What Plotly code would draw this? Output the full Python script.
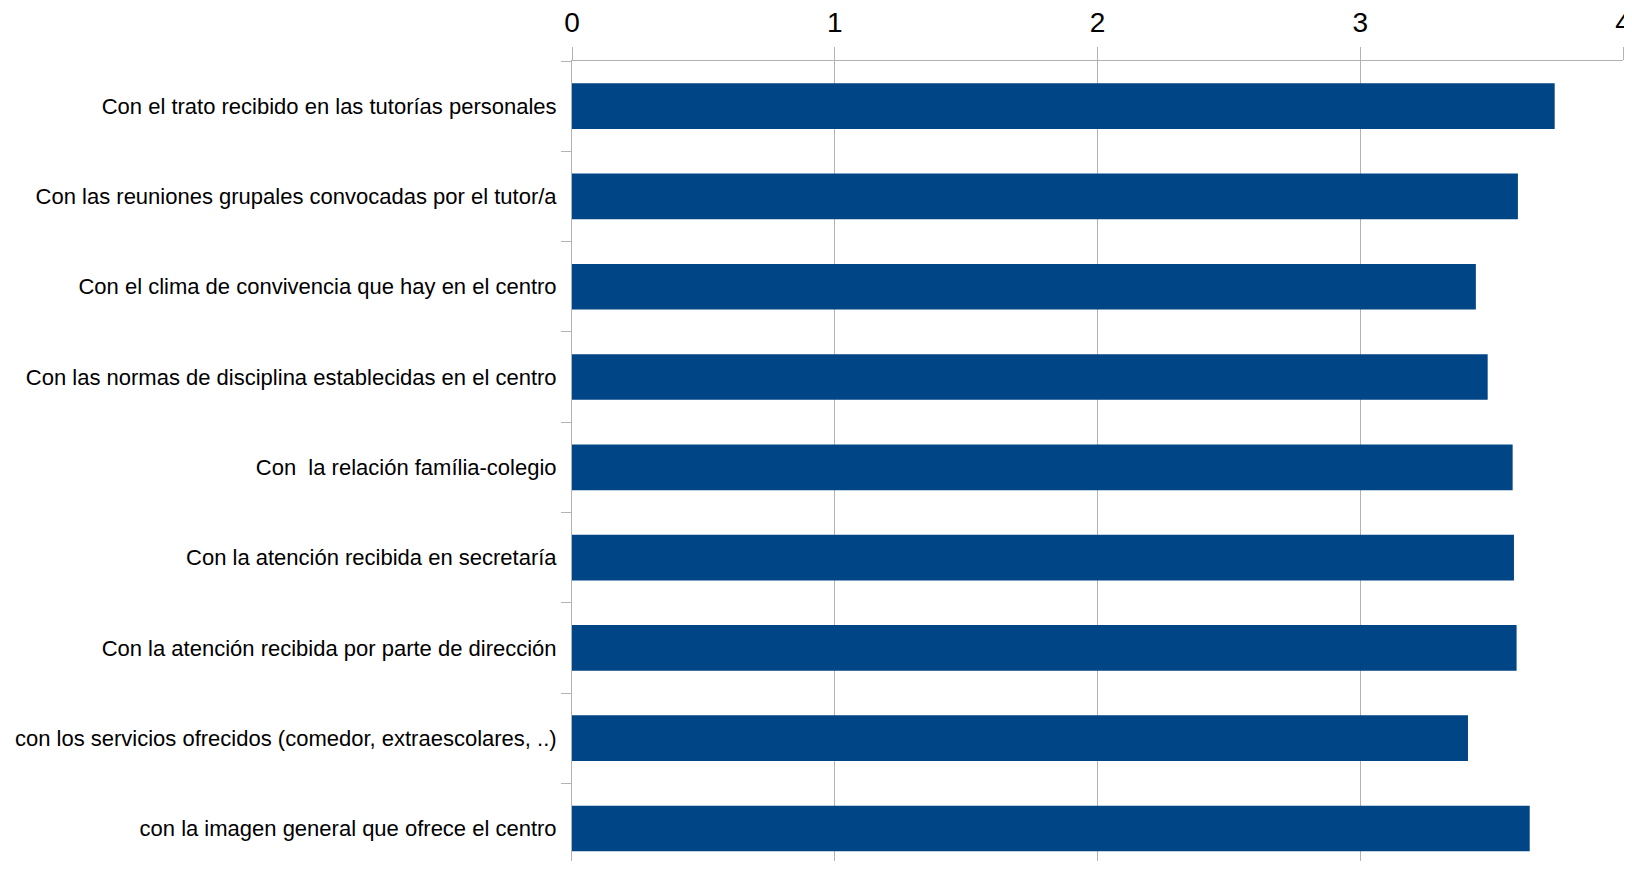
import plotly.graph_objects as go

categories = [
    "Con el trato recibido en las tutorías personales",
    "Con las reuniones grupales convocadas por el tutor/a",
    "Con el clima de convivencia que hay en el centro",
    "Con las normas de disciplina establecidas en el centro",
    "Con  la relación família-colegio",
    "Con la atención recibida en secretaría",
    "Con la atención recibida por parte de dirección",
    "con los servicios ofrecidos (comedor, extraescolares, ..)",
    "con la imagen general que ofrece el centro",
]
values = [3.74, 3.60, 3.44, 3.485, 3.58, 3.585, 3.595, 3.41, 3.645]
x_ticks = [0, 1, 2, 3, 4]

FONT = "Liberation Sans Narrow, Arial Narrow, Liberation Sans, Arial, sans-serif"
GRID = "#b3b3b3"

fig = go.Figure(
    go.Bar(
        x=values,
        y=categories,
        orientation="h",
        marker=dict(color="#004586", line=dict(width=0)),
        hoverinfo="x+y",
    )
)

fig.update_layout(
    width=1632,
    height=853,
    margin=dict(l=564, r=17, t=53, b=0, pad=0),
    paper_bgcolor="white",
    plot_bgcolor="white",
    bargap=0.494,
    showlegend=False,
    font=dict(family=FONT, size=22, color="black"),
)

fig.update_xaxes(
    side="top",
    range=[0, 4],
    tickvals=x_ticks,
    ticktext=[str(t) for t in x_ticks],
    showgrid=True,
    gridcolor=GRID,
    gridwidth=1,
    zeroline=False,
    showline=True,
    linecolor=GRID,
    linewidth=1,
    ticks="outside",
    ticklen=13,
    tickcolor=GRID,
    ticklabelstandoff=4,
    ticklabeloverflow="allow",
    automargin=False,
    tickfont=dict(family=FONT, size=28, color="black"),
)

fig.update_yaxes(
    categoryorder="array",
    categoryarray=categories,
    range=[8.36, -0.5],
    showgrid=False,
    zeroline=False,
    showline=True,
    linecolor=GRID,
    linewidth=1,
    ticks="outside",
    tickson="boundaries",
    ticklen=10,
    tickcolor=GRID,
    ticklabelstandoff=10,
    automargin=False,
    tickfont=dict(family=FONT, size=22, color="black"),
)

fig.write_html("out.html")
